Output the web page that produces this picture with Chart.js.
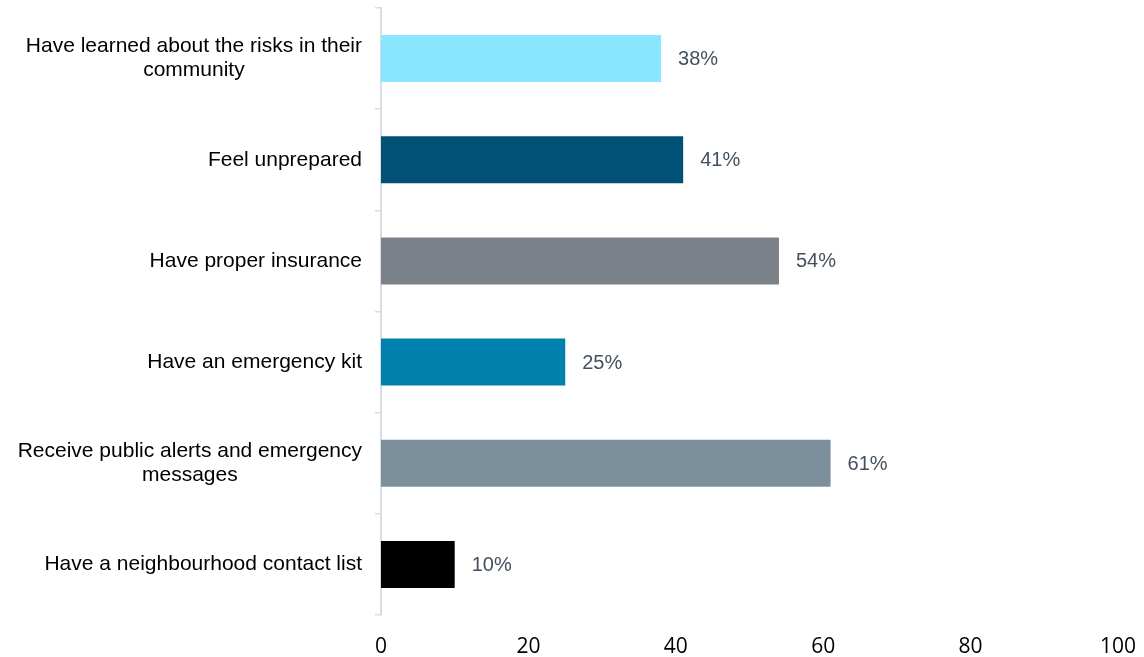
<!DOCTYPE html>
<html>
<head>
<meta charset="utf-8">
<script src="https://cdn.jsdelivr.net/npm/chart.js@4"></script>
<style>
  html, body { margin: 0; padding: 0; background: #fff; }
  #wrap { width: 1144px; height: 657px; }
</style>
</head>
<body>
<div id="wrap"><canvas id="prepChart"></canvas></div>
<script>
const categories = [
    ['Have learned about the risks in their', 'community'],
    'Feel unprepared',
    'Have proper insurance',
    'Have an emergency kit',
    ['Receive public alerts and emergency', 'messages'],
    'Have a neighbourhood contact list'
];
const percentages = [38, 41, 54, 25, 61, 10];
const barColors = ['#89e6ff', '#005174', '#7b8189', '#0080ad', '#7b909c', '#000000'];
const xTicks = [0, 20, 40, 60, 80, 100];

const labelFont = '21px "Liberation Sans", Arial, sans-serif';
const valueFont = '20px "Liberation Sans", Arial, sans-serif';

// draws the category names: each block right aligned, lines centred inside the block
const categoryLabels = {
    id: 'categoryLabels',
    afterDraw(chart) {
        const ctx = chart.ctx;
        const y = chart.scales.y;
        ctx.save();
        ctx.font = labelFont;
        ctx.fillStyle = '#000';
        ctx.textBaseline = 'middle';
        ctx.textAlign = 'center';
        categories.forEach((label, i) => {
            const lines = Array.isArray(label) ? label : [label];
            const w = Math.max(...lines.map(l => ctx.measureText(l).width));
            const cx = 362 - w / 2;
            const cy = y.getPixelForValue(i);
            const lh = 24;
            lines.forEach((l, j) => {
                ctx.fillText(l, cx, cy + (j - (lines.length - 1) / 2) * lh);
            });
        });
        ctx.restore();
    }
};

// value labels after each bar
const valueLabels = {
    id: 'valueLabels',
    afterDatasetsDraw(chart) {
        const ctx = chart.ctx;
        const meta = chart.getDatasetMeta(0);
        ctx.save();
        ctx.font = valueFont;
        ctx.fillStyle = '#44505c';
        ctx.textBaseline = 'middle';
        ctx.textAlign = 'left';
        meta.data.forEach((bar, i) => {
            ctx.fillText(percentages[i] + '%', bar.x + 17, bar.y + 1);
        });
        ctx.restore();
    }
};

new Chart(document.getElementById('prepChart'), {
    type: 'bar',
    data: {
        labels: categories,
        datasets: [{
            data: percentages,
            backgroundColor: barColors,
            borderWidth: 0,
            barPercentage: 0.465,
            categoryPercentage: 1
        }]
    },
    options: {
        indexAxis: 'y',
        responsive: true,
        maintainAspectRatio: false,
        animation: false,
        layout: { padding: { top: 8, right: 26, bottom: 0, left: 0 } },
        plugins: {
            legend: { display: false },
            tooltip: { enabled: false }
        },
        scales: {
            x: {
                min: 0,
                max: 100,
                afterBuildTicks: axis => { axis.ticks = xTicks.map(v => ({ value: v })); },
                afterFit: axis => {
                    axis.height = 42;
                    axis.paddingLeft = 0;
                    axis.paddingRight = 0;
                },
                grid: { display: false, drawTicks: false },
                border: { display: false },
                ticks: {
                    color: '#000',
                    padding: 19,
                    font: { family: '"Open Sans", sans-serif', size: 21 }
                }
            },
            y: {
                afterFit: axis => {
                    axis.width = 381;
                    axis.paddingTop = 0;
                    axis.paddingBottom = 0;
                },
                grid: {
                    drawOnChartArea: false,
                    tickLength: 6,
                    color: '#d9dce0',
                    lineWidth: 1.5
                },
                border: { color: '#d9dce0', width: 2 },
                ticks: { color: 'transparent', font: { size: 18 } }
            }
        }
    },
    plugins: [categoryLabels, valueLabels]
});
</script>
</body>
</html>
